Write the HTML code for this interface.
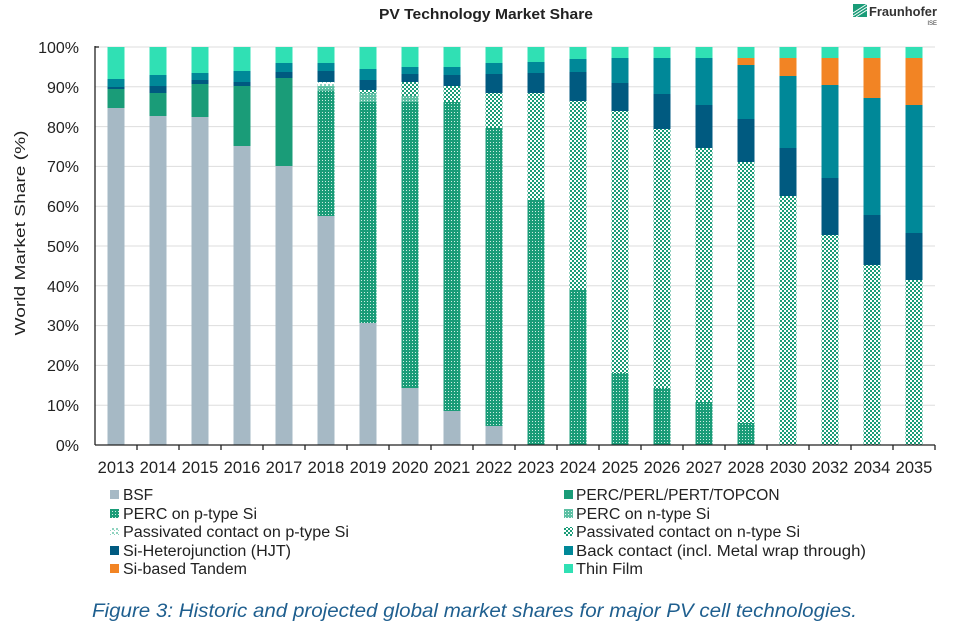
<!DOCTYPE html>
<html><head><meta charset="utf-8"><style>
body{margin:0;background:#fff;width:964px;height:626px;overflow:hidden;font-family:"Liberation Sans",sans-serif}
</style></head><body>
<svg width="964" height="626" xmlns="http://www.w3.org/2000/svg" font-family="Liberation Sans, sans-serif">
<defs>
<pattern id="pp" width="3" height="3" patternUnits="userSpaceOnUse"><rect width="3" height="3" fill="#1a9c78"/><rect x="1" y="1" width="1" height="1" fill="#cfeee5"/></pattern>
<pattern id="pn" width="3" height="3" patternUnits="userSpaceOnUse"><rect width="3" height="3" fill="#5cbfa3"/><rect x="1" y="1" width="1" height="1" fill="#e8f7f2"/></pattern>
<pattern id="passn" width="4" height="4" patternUnits="userSpaceOnUse"><rect width="4" height="4" fill="#fff"/><rect width="2" height="2" fill="#1a9c78"/><rect x="2" y="2" width="2" height="2" fill="#1a9c78"/></pattern>
<pattern id="passp" width="4" height="4" patternUnits="userSpaceOnUse"><rect width="4" height="4" fill="#fff"/><rect width="2" height="2" fill="#8fd3bf"/><rect x="2" y="2" width="1" height="1" fill="#8fd3bf"/></pattern>
</defs>
<text x="379" y="19" font-size="15" font-weight="bold" fill="#222" textLength="214" lengthAdjust="spacingAndGlyphs">PV Technology Market Share</text>
<g transform="translate(853,4)"><rect width="14" height="13" fill="#1a9c78"/><path d="M0 12 L14 3 M0 9 L14 0 M3 13 L14 6" stroke="#fff" stroke-width="1"/></g>
<text x="869" y="16" font-size="13" font-weight="bold" fill="#333" textLength="68" lengthAdjust="spacingAndGlyphs">Fraunhofer</text>
<text x="937" y="25" font-size="6" fill="#333" text-anchor="end">ISE</text>
<g stroke="#ddd" stroke-width="1">
<line x1="95" x2="935" y1="47" y2="47"/><line x1="95" x2="935" y1="86.8" y2="86.8"/><line x1="95" x2="935" y1="126.6" y2="126.6"/><line x1="95" x2="935" y1="166.4" y2="166.4"/><line x1="95" x2="935" y1="206.2" y2="206.2"/><line x1="95" x2="935" y1="246" y2="246"/><line x1="95" x2="935" y1="285.8" y2="285.8"/><line x1="95" x2="935" y1="325.6" y2="325.6"/><line x1="95" x2="935" y1="365.4" y2="365.4"/><line x1="95" x2="935" y1="405.2" y2="405.2"/>
</g>
<g font-size="16" fill="#222" text-anchor="end">
<text x="79" y="53">100%</text><text x="79" y="93">90%</text><text x="79" y="133">80%</text><text x="79" y="172">70%</text><text x="79" y="212">60%</text><text x="79" y="252">50%</text><text x="79" y="292">40%</text><text x="79" y="331">30%</text><text x="79" y="371">20%</text><text x="79" y="411">10%</text><text x="79" y="451">0%</text>
</g>
<text transform="translate(25,233) rotate(-90)" text-anchor="middle" font-size="15" fill="#222" textLength="205" lengthAdjust="spacingAndGlyphs">World Market Share (%)</text>
<g>
<rect x="107.5" y="47" width="17" height="32" fill="#30e0b4"/><rect x="107.5" y="79" width="17" height="8" fill="#008898"/><rect x="107.5" y="87" width="17" height="2" fill="#005a80"/><rect x="107.5" y="89" width="17" height="19" fill="#1a9c78"/><rect x="107.5" y="108" width="17" height="337" fill="#a6b9c5"/>
<rect x="149.5" y="47" width="17" height="28" fill="#30e0b4"/><rect x="149.5" y="75" width="17" height="11" fill="#008898"/><rect x="149.5" y="86" width="17" height="7" fill="#005a80"/><rect x="149.5" y="93" width="17" height="23" fill="#1a9c78"/><rect x="149.5" y="116" width="17" height="329" fill="#a6b9c5"/>
<rect x="191.5" y="47" width="17" height="26" fill="#30e0b4"/><rect x="191.5" y="73" width="17" height="7" fill="#008898"/><rect x="191.5" y="80" width="17" height="4" fill="#005a80"/><rect x="191.5" y="84" width="17" height="33" fill="#1a9c78"/><rect x="191.5" y="117" width="17" height="328" fill="#a6b9c5"/>
<rect x="233.5" y="47" width="17" height="24" fill="#30e0b4"/><rect x="233.5" y="71" width="17" height="11" fill="#008898"/><rect x="233.5" y="82" width="17" height="4" fill="#005a80"/><rect x="233.5" y="86" width="17" height="60" fill="#1a9c78"/><rect x="233.5" y="146" width="17" height="299" fill="#a6b9c5"/>
<rect x="275.5" y="47" width="17" height="16" fill="#30e0b4"/><rect x="275.5" y="63" width="17" height="9" fill="#008898"/><rect x="275.5" y="72" width="17" height="6" fill="#005a80"/><rect x="275.5" y="78" width="17" height="88" fill="#1a9c78"/><rect x="275.5" y="166" width="17" height="279" fill="#a6b9c5"/>
<rect x="317.5" y="47" width="17" height="16" fill="#30e0b4"/><rect x="317.5" y="63" width="17" height="8" fill="#008898"/><rect x="317.5" y="71" width="17" height="11" fill="#005a80"/><rect x="317.5" y="82" width="17" height="4" fill="url(#passp)"/><rect x="317.5" y="86" width="17" height="5" fill="url(#pn)"/><rect x="317.5" y="91" width="17" height="125" fill="url(#pp)"/><rect x="317.5" y="216" width="17" height="229" fill="#a6b9c5"/>
<rect x="359.5" y="47" width="17" height="22" fill="#30e0b4"/><rect x="359.5" y="69" width="17" height="11" fill="#008898"/><rect x="359.5" y="80" width="17" height="10" fill="#005a80"/><rect x="359.5" y="90" width="17" height="3" fill="url(#passn)"/><rect x="359.5" y="93" width="17" height="9" fill="url(#pn)"/><rect x="359.5" y="102" width="17" height="221" fill="url(#pp)"/><rect x="359.5" y="323" width="17" height="122" fill="#a6b9c5"/>
<rect x="401.5" y="47" width="17" height="20" fill="#30e0b4"/><rect x="401.5" y="67" width="17" height="7" fill="#008898"/><rect x="401.5" y="74" width="17" height="8" fill="#005a80"/><rect x="401.5" y="82" width="17" height="14" fill="url(#passn)"/><rect x="401.5" y="96" width="17" height="6" fill="url(#pn)"/><rect x="401.5" y="102" width="17" height="286" fill="url(#pp)"/><rect x="401.5" y="388" width="17" height="57" fill="#a6b9c5"/>
<rect x="443.5" y="47" width="17" height="20" fill="#30e0b4"/><rect x="443.5" y="67" width="17" height="8" fill="#008898"/><rect x="443.5" y="75" width="17" height="11" fill="#005a80"/><rect x="443.5" y="86" width="17" height="16" fill="url(#passn)"/><rect x="443.5" y="102" width="17" height="309" fill="url(#pp)"/><rect x="443.5" y="411" width="17" height="34" fill="#a6b9c5"/>
<rect x="485.5" y="47" width="17" height="16" fill="#30e0b4"/><rect x="485.5" y="63" width="17" height="11" fill="#008898"/><rect x="485.5" y="74" width="17" height="19" fill="#005a80"/><rect x="485.5" y="93" width="17" height="35" fill="url(#passn)"/><rect x="485.5" y="128" width="17" height="298" fill="url(#pp)"/><rect x="485.5" y="426" width="17" height="19" fill="#a6b9c5"/>
<rect x="527.5" y="47" width="17" height="15" fill="#30e0b4"/><rect x="527.5" y="62" width="17" height="11" fill="#008898"/><rect x="527.5" y="73" width="17" height="20" fill="#005a80"/><rect x="527.5" y="93" width="17" height="107" fill="url(#passn)"/><rect x="527.5" y="200" width="17" height="245" fill="url(#pp)"/>
<rect x="569.5" y="47" width="17" height="12" fill="#30e0b4"/><rect x="569.5" y="59" width="17" height="13" fill="#008898"/><rect x="569.5" y="72" width="17" height="29" fill="#005a80"/><rect x="569.5" y="101" width="17" height="189" fill="url(#passn)"/><rect x="569.5" y="290" width="17" height="155" fill="url(#pp)"/>
<rect x="611.5" y="47" width="17" height="11" fill="#30e0b4"/><rect x="611.5" y="58" width="17" height="25" fill="#008898"/><rect x="611.5" y="83" width="17" height="28" fill="#005a80"/><rect x="611.5" y="111" width="17" height="262" fill="url(#passn)"/><rect x="611.5" y="373" width="17" height="72" fill="url(#pp)"/>
<rect x="653.5" y="47" width="17" height="11" fill="#30e0b4"/><rect x="653.5" y="58" width="17" height="36" fill="#008898"/><rect x="653.5" y="94" width="17" height="35" fill="#005a80"/><rect x="653.5" y="129" width="17" height="259" fill="url(#passn)"/><rect x="653.5" y="388" width="17" height="57" fill="url(#pp)"/>
<rect x="695.5" y="47" width="17" height="11" fill="#30e0b4"/><rect x="695.5" y="58" width="17" height="47" fill="#008898"/><rect x="695.5" y="105" width="17" height="43" fill="#005a80"/><rect x="695.5" y="148" width="17" height="254" fill="url(#passn)"/><rect x="695.5" y="402" width="17" height="43" fill="url(#pp)"/>
<rect x="737.5" y="47" width="17" height="11" fill="#30e0b4"/><rect x="737.5" y="58" width="17" height="7" fill="#f28424"/><rect x="737.5" y="65" width="17" height="54" fill="#008898"/><rect x="737.5" y="119" width="17" height="43" fill="#005a80"/><rect x="737.5" y="162" width="17" height="261" fill="url(#passn)"/><rect x="737.5" y="423" width="17" height="22" fill="url(#pp)"/>
<rect x="779.5" y="47" width="17" height="11" fill="#30e0b4"/><rect x="779.5" y="58" width="17" height="18" fill="#f28424"/><rect x="779.5" y="76" width="17" height="72" fill="#008898"/><rect x="779.5" y="148" width="17" height="48" fill="#005a80"/><rect x="779.5" y="196" width="17" height="249" fill="url(#passn)"/>
<rect x="821.5" y="47" width="17" height="11" fill="#30e0b4"/><rect x="821.5" y="58" width="17" height="27" fill="#f28424"/><rect x="821.5" y="85" width="17" height="93" fill="#008898"/><rect x="821.5" y="178" width="17" height="57" fill="#005a80"/><rect x="821.5" y="235" width="17" height="210" fill="url(#passn)"/>
<rect x="863.5" y="47" width="17" height="11" fill="#30e0b4"/><rect x="863.5" y="58" width="17" height="40" fill="#f28424"/><rect x="863.5" y="98" width="17" height="117" fill="#008898"/><rect x="863.5" y="215" width="17" height="50" fill="#005a80"/><rect x="863.5" y="265" width="17" height="180" fill="url(#passn)"/>
<rect x="905.5" y="47" width="17" height="11" fill="#30e0b4"/><rect x="905.5" y="58" width="17" height="47" fill="#f28424"/><rect x="905.5" y="105" width="17" height="128" fill="#008898"/><rect x="905.5" y="233" width="17" height="47" fill="#005a80"/><rect x="905.5" y="280" width="17" height="165" fill="url(#passn)"/>
</g>
<g stroke="#222" stroke-width="1.3">
<line x1="95" y1="46" x2="95" y2="445"/><line x1="95" y1="445" x2="935" y2="445"/>
<line x1="95" y1="47" x2="99" y2="47"/>
<line x1="137" y1="445" x2="137" y2="450"/><line x1="179" y1="445" x2="179" y2="450"/><line x1="221" y1="445" x2="221" y2="450"/><line x1="263" y1="445" x2="263" y2="450"/><line x1="305" y1="445" x2="305" y2="450"/><line x1="347" y1="445" x2="347" y2="450"/><line x1="389" y1="445" x2="389" y2="450"/><line x1="431" y1="445" x2="431" y2="450"/><line x1="473" y1="445" x2="473" y2="450"/><line x1="515" y1="445" x2="515" y2="450"/><line x1="557" y1="445" x2="557" y2="450"/><line x1="599" y1="445" x2="599" y2="450"/><line x1="641" y1="445" x2="641" y2="450"/><line x1="683" y1="445" x2="683" y2="450"/><line x1="725" y1="445" x2="725" y2="450"/><line x1="767" y1="445" x2="767" y2="450"/><line x1="809" y1="445" x2="809" y2="450"/><line x1="851" y1="445" x2="851" y2="450"/><line x1="893" y1="445" x2="893" y2="450"/><line x1="935" y1="445" x2="935" y2="450"/>
</g>
<g font-size="16.5" fill="#222" text-anchor="middle">
<text x="116" y="473">2013</text><text x="158" y="473">2014</text><text x="200" y="473">2015</text><text x="242" y="473">2016</text><text x="284" y="473">2017</text><text x="326" y="473">2018</text><text x="368" y="473">2019</text><text x="410" y="473">2020</text><text x="452" y="473">2021</text><text x="494" y="473">2022</text><text x="536" y="473">2023</text><text x="578" y="473">2024</text><text x="620" y="473">2025</text><text x="662" y="473">2026</text><text x="704" y="473">2027</text><text x="746" y="473">2028</text><text x="788" y="473">2030</text><text x="830" y="473">2032</text><text x="872" y="473">2034</text><text x="914" y="473">2035</text>
</g>
<g font-size="15.5" fill="#222">
<rect x="110" y="490" width="9" height="9" fill="#a6b9c5"/><text x="123" y="500">BSF</text>
<rect x="110" y="509" width="9" height="9" fill="url(#pp)"/><text x="123" y="519" textLength="134" lengthAdjust="spacingAndGlyphs">PERC on p-type Si</text>
<rect x="110" y="527" width="9" height="9" fill="url(#passp)"/><text x="123" y="537" textLength="226" lengthAdjust="spacingAndGlyphs">Passivated contact on p-type Si</text>
<rect x="110" y="546" width="9" height="9" fill="#005a80"/><text x="123" y="556" textLength="168" lengthAdjust="spacingAndGlyphs">Si-Heterojunction (HJT)</text>
<rect x="110" y="564" width="9" height="9" fill="#f28424"/><text x="123" y="574" textLength="124" lengthAdjust="spacingAndGlyphs">Si-based Tandem</text>
<rect x="564" y="490" width="9" height="9" fill="#1a9c78"/><text x="576" y="500">PERC/PERL/PERT/TOPCON</text>
<rect x="564" y="509" width="9" height="9" fill="url(#pn)"/><text x="576" y="519" textLength="134" lengthAdjust="spacingAndGlyphs">PERC on n-type Si</text>
<rect x="564" y="527" width="9" height="9" fill="url(#passn)"/><text x="576" y="537" textLength="224" lengthAdjust="spacingAndGlyphs">Passivated contact on n-type Si</text>
<rect x="564" y="546" width="9" height="9" fill="#008898"/><text x="576" y="556" textLength="290" lengthAdjust="spacingAndGlyphs">Back contact (incl. Metal wrap through)</text>
<rect x="564" y="564" width="9" height="9" fill="#30e0b4"/><text x="576" y="574" textLength="67" lengthAdjust="spacingAndGlyphs">Thin Film</text>
</g>
<text x="92" y="617" font-size="19" font-style="italic" fill="#1f5f8f" textLength="765" lengthAdjust="spacingAndGlyphs">Figure 3: Historic and projected global market shares for major PV cell technologies.</text>
</svg>
</body></html>
